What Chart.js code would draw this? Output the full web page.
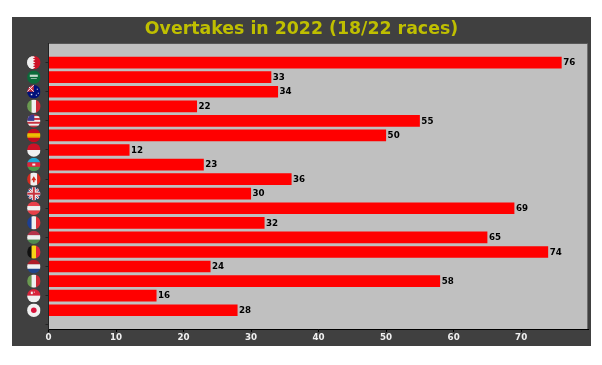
<!DOCTYPE html>
<html>
<head>
<meta charset="utf-8">
<title>Overtakes in 2022</title>
<script src="https://cdn.jsdelivr.net/npm/chart.js@4"></script>
<style>
    html, body { margin: 0; background: #fff; }
    #quadro { position: absolute; left: 12px; top: 17px; width: 579px; height: 329px; background: #404040; }
    canvas { display: block; }
</style>
</head>
<body>
<div id="quadro"><canvas id="grafico" width="579" height="329"></canvas></div>
<script>
// Data
const races = ["Bahrain", "Saudi Arabia", "Australia", "Imola", "Miami", "Spain", "Monaco", "Azerbaijan", "Canada", "Britain", "Austria", "France", "Hungary", "Belgium", "Netherlands", "Monza", "Singapore", "Japan"];
const overtakes = [76, 33, 34, 22, 55, 50, 12, 23, 36, 30, 69, 32, 65, 74, 24, 58, 16, 28];
const xTicks = [0, 10, 20, 30, 40, 50, 60, 70];
const yTicks = [0, 1, 2, 3, 4, 5, 6, 7, 8, 9, 10, 11, 12, 13, 14, 15, 16, 17, 18];
const chartTitle = "Overtakes in 2022 (18/22 races)";

// Flag colours per race, [direction, stripes]
const flagColors = [
    ["v", ["#f0f0f0", "#ce1126", "#ce1126"]],
    ["h", ["#0b6b3a"]],
    ["h", ["#00107a"]],
    ["v", ["#6a9a50", "#f0f0f0", "#ce2b37"]],
    ["h", ["#c8313e", "#f0f0f0", "#c8313e", "#f0f0f0", "#c8313e", "#f0f0f0", "#c8313e"]],
    ["h", ["#c60b1e", "#c60b1e", "#c60b1e", "#f1bf00", "#f1bf00", "#f1bf00", "#c60b1e", "#c60b1e", "#c60b1e"]],
    ["h", ["#ce1126", "#f0f0f0"]],
    ["h", ["#1fa9d6", "#e0263c", "#4a9a4a"]],
    ["v", ["#d52b1e", "#f0f0f0", "#f0f0f0", "#d52b1e"]],
    ["h", ["#1a3a7a"]],
    ["h", ["#e8404a", "#f0f0f0", "#e8404a"]],
    ["v", ["#1c3f94", "#f0f0f0", "#e1303c"]],
    ["h", ["#b5344a", "#f0f0f0", "#4f8a50"]],
    ["v", ["#111111", "#f7d417", "#e0263c"]],
    ["h", ["#ae1c28", "#f0f0f0", "#21468b"]],
    ["v", ["#6a9a50", "#f0f0f0", "#ce2b37"]],
    ["h", ["#d8233a", "#f0f0f0"]],
    ["h", ["#f0f0f0"]]
];

// Extra marks on top of the stripes
const flagDetails = {
    "Bahrain": function (c, x, y, r) {
        c.fillStyle = "#f0f0f0";
        c.beginPath();
        c.moveTo(x - r, y - r);
        c.lineTo(x - 1, y - r);
        for (let i = 0; i < 5; i++) {
            c.lineTo(x + 1.5, y - r + (i + 0.5) * 2.6);
            c.lineTo(x - 1, y - r + (i + 1) * 2.6);
        }
        c.lineTo(x - r, y + r);
        c.fill();
    },
    "Saudi Arabia": function (c, x, y) {
        c.fillStyle = "#c5dccd";
        c.fillRect(x - 4, y - 2.5, 8, 2.2);
        c.fillRect(x - 3, y + 1, 6, 0.7);
    },
    "Australia": function (c, x, y, r) {
        c.fillStyle = "#c8313e";
        c.fillRect(x - r, y - r, r, r);
        c.strokeStyle = "#f0f0f0";
        c.lineWidth = 1;
        c.beginPath();
        c.moveTo(x - r, y - r);
        c.lineTo(x, y);
        c.moveTo(x, y - r);
        c.lineTo(x - r, y);
        c.stroke();
        c.fillStyle = "#f0f0f0";
        c.fillRect(x - 3, y + 2, 1.5, 1.5);
        c.fillRect(x + 3, y - 3, 1, 1);
        c.fillRect(x + 4, y + 1, 1, 1);
        c.fillRect(x + 2, y + 3, 1, 1);
    },
    "Miami": function (c, x, y, r) {
        c.fillStyle = "#3c3b8e";
        c.fillRect(x - r, y - r, r + 0.5, r);
    },
    "Azerbaijan": function (c, x, y) {
        c.fillStyle = "#f0f0f0";
        c.fillRect(x - 1.5, y - 1, 3, 2);
    },
    "Canada": function (c, x, y) {
        c.fillStyle = "#d52b1e";
        c.beginPath();
        c.moveTo(x, y - 3);
        c.lineTo(x + 2.5, y + 1);
        c.lineTo(x + 0.7, y + 1);
        c.lineTo(x + 0.7, y + 3);
        c.lineTo(x - 0.7, y + 3);
        c.lineTo(x - 0.7, y + 1);
        c.lineTo(x - 2.5, y + 1);
        c.fill();
    },
    "Britain": function (c, x, y, r) {
        c.strokeStyle = "#f0f0f0";
        c.lineWidth = 2.5;
        c.beginPath();
        c.moveTo(x - r, y - r);
        c.lineTo(x + r, y + r);
        c.moveTo(x + r, y - r);
        c.lineTo(x - r, y + r);
        c.stroke();
        c.strokeStyle = "#c8313e";
        c.lineWidth = 1;
        c.stroke();
        c.fillStyle = "#f0f0f0";
        c.fillRect(x - 2, y - r, 4, 2 * r);
        c.fillRect(x - r, y - 2, 2 * r, 4);
        c.fillStyle = "#c8313e";
        c.fillRect(x - 1, y - r, 2, 2 * r);
        c.fillRect(x - r, y - 1, 2 * r, 2);
    },
    "Singapore": function (c, x, y) {
        c.fillStyle = "#f0f0f0";
        c.fillRect(x - 3, y - 4, 2, 2.5);
        c.fillRect(x, y - 4, 1, 1);
    },
    "Japan": function (c, x, y) {
        c.fillStyle = "#d8123a";
        c.beginPath();
        c.arc(x, y, 2.8, 0, Math.PI * 2);
        c.fill();
    }
};

// Paints the silver plot background and the faint right edge
const fundoPlugin = {
    id: "fundo",
    beforeDraw(chart) {
        const a = chart.chartArea;
        const c = chart.ctx;
        c.fillStyle = "#c0c0c0";
        c.fillRect(a.left, a.top, a.right - a.left, a.bottom - a.top);
        c.fillStyle = "#707070";
        c.fillRect(a.right - 1, a.top, 1, a.bottom - a.top);
    }
};

// Value at the end of each bar
const rotulosPlugin = {
    id: "rotulos",
    afterDatasetsDraw(chart) {
        const c = chart.ctx;
        c.save();
        c.fillStyle = "#000";
        c.font = "bold 8.7px 'DejaVu Sans'";
        c.textBaseline = "middle";
        chart.getDatasetMeta(0).data.forEach((bar, i) => {
            c.fillText(overtakes[i], bar.x + 1.5, bar.y + 0.5);
        });
        c.restore();
    }
};

// Round flags in place of the y tick labels
const bandeirasPlugin = {
    id: "bandeiras",
    afterDraw(chart) {
        const c = chart.ctx;
        const r = 6.7;
        const x = chart.scales.y.left + 18.8;
        races.forEach((race, i) => {
            const y = chart.scales.y.getPixelForValue(i);
            const [dir, stripes] = flagColors[i];
            c.save();
            c.beginPath();
            c.arc(x, y, r, 0, Math.PI * 2);
            c.clip();
            stripes.forEach((color, s) => {
                const t = 2 * r / stripes.length;
                c.fillStyle = color;
                if (dir === "h") c.fillRect(x - r, y - r + s * t, 2 * r, t + 0.3);
                else c.fillRect(x - r + s * t, y - r, t + 0.3, 2 * r);
            });
            if (flagDetails[race]) flagDetails[race](c, x, y, r);
            c.restore();
        });
    }
};

new Chart(document.getElementById("grafico"), {
    type: "bar",
    data: {
        datasets: [{
            data: overtakes.map((v, i) => ({ x: v, y: i })),
            backgroundColor: "#ff0000",
            barPercentage: 0.8,
            categoryPercentage: 1
        }]
    },
    options: {
        indexAxis: "y",
        responsive: false,
        animation: false,
        layout: { padding: { left: 3, right: 3 } },
        plugins: {
            legend: { display: false },
            tooltip: { enabled: false },
            title: {
                display: true,
                text: chartTitle,
                color: "#bfbf00",
                font: { family: "DejaVu Sans", size: 17.35, weight: "bold" },
                padding: { top: 2.5, bottom: 3.5 }
            }
        },
        scales: {
            x: {
                type: "linear",
                min: 0,
                max: 79.9,
                afterFit(scale) { scale.height = 17; },
                afterBuildTicks(scale) { scale.ticks = xTicks.map(v => ({ value: v })); },
                grid: { drawOnChartArea: false, tickLength: 3, color: "#000" },
                border: { color: "#000", width: 1 },
                ticks: {
                    color: "#f0f0f0",
                    maxRotation: 0,
                    padding: 1,
                    font: { family: "DejaVu Sans", size: 8.7, weight: "bold" }
                }
            },
            y: {
                type: "linear",
                reverse: true,
                offset: false,
                bounds: "data",
                min: -1.29,
                max: 18.29,
                afterFit(scale) { scale.width = 33.5; },
                afterBuildTicks(scale) { scale.ticks = yTicks.map(v => ({ value: v })); },
                grid: { offset: false, drawOnChartArea: false, tickLength: 3, color: "#222" },
                border: { color: "#222", width: 1 },
                ticks: { callback: () => "" }
            }
        }
    },
    plugins: [fundoPlugin, rotulosPlugin, bandeirasPlugin]
});
</script>
</body>
</html>
